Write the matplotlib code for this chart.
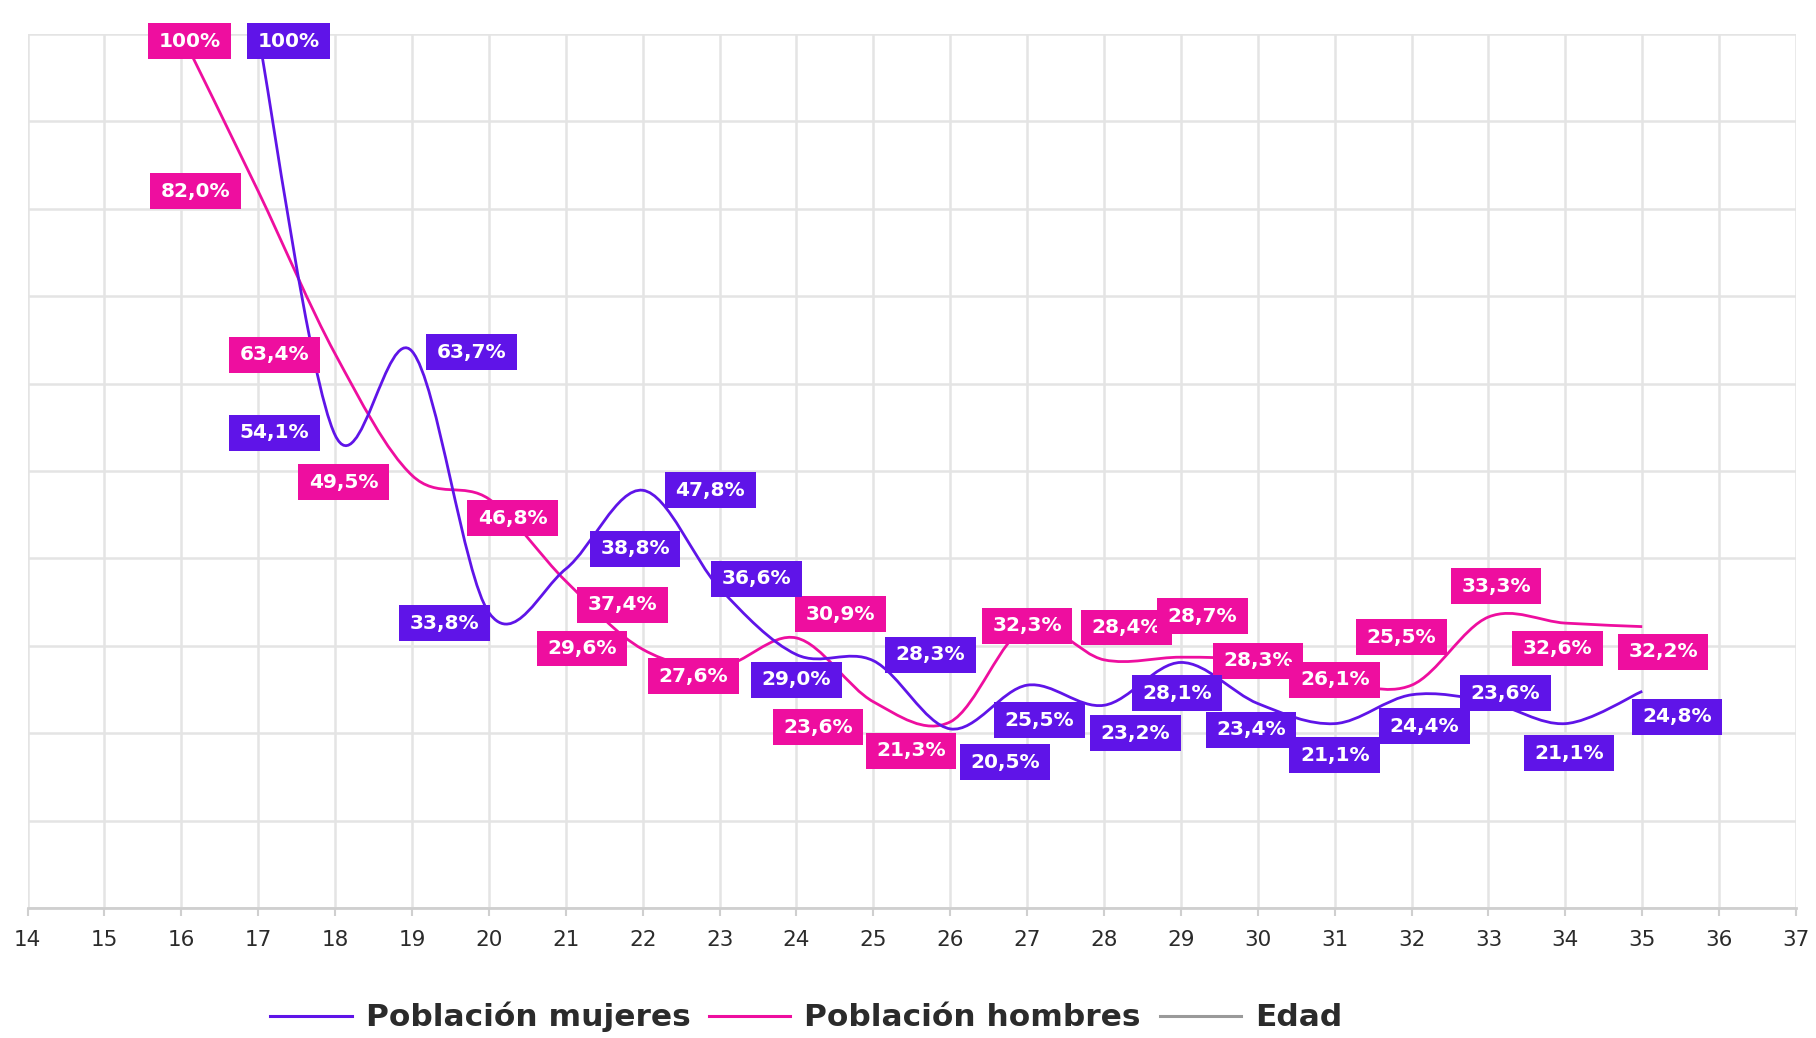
import numpy as np
import matplotlib
matplotlib.use('Agg')
import matplotlib.pyplot as plt
from matplotlib.path import Path
from matplotlib.patches import PathPatch
from matplotlib.lines import Line2D

# Datos (porcentaje por edad)
edad_mujeres = [17, 18, 19, 20, 21, 22, 23, 24, 25, 26, 27, 28, 29, 30, 31, 32, 33, 34, 35]
mujeres = [100, 54.1, 63.7, 33.8, 38.8, 47.8, 36.6, 29.0, 28.3, 20.5, 25.5,
           23.2, 28.1, 23.4, 21.1, 24.4, 23.6, 21.1, 24.8]

edad_hombres = [16, 17, 18, 19, 20, 21, 22, 23, 24, 25, 26, 27, 28, 29, 30,
                31, 32, 33, 34, 35]
hombres = [100, 82.0, 63.4, 49.5, 46.8, 37.4, 29.6, 27.6, 30.9, 23.6, 21.3,
           32.3, 28.4, 28.7, 28.3, 26.1, 25.5, 33.3, 32.6, 32.2]

edades_eje = list(range(14, 38))

# Desplazamiento de las etiquetas respecto al punto (unidades de datos)
hom_dx = [0.11, -0.82, -0.79, -0.89, 0.31, 0.74, -0.79, -0.34, 0.57, -0.72,
          -0.51, 0.0, 0.29, 0.28, 0.0, 0.0, -0.13, 0.10, -0.10, 0.27]
hom_dy = [-0.8, 0.0, -0.1, -0.8, -2.2, -2.7, 0.1, -1.1, 2.7, -2.9,
          -3.3, 0.0, 3.7, 4.7, 0.0, 0.0, 5.5, 3.5, -2.9, -2.9]
muj_dx = [0.39, -0.79, 0.77, -0.58, 0.90, 0.88, 0.48, 0.0, 0.74, 0.71,
          0.16, 0.41, -0.05, -0.09, 0.0, 0.17, 0.22, 0.05, 0.45]
muj_dy = [-0.8, 0.3, -0.1, -1.2, 2.3, 0.0, 1.1, -2.9, 0.7, -3.8,
          -4.0, -3.2, -3.5, -3.0, -3.6, -3.6, 1.0, -3.4, -2.9]

MORADO = '#5f14e8'
ROSA = '#ee0e9f'
GRIS = '#e4e4e4'


def curva_suave(xs, ys):
    """Curva Catmull-Rom como path de Bezier (pasa por todos los puntos)."""
    pts = np.column_stack([xs, ys]).astype(float)
    ext = np.vstack([pts[0], pts, pts[-1]])
    verts = [pts[0]]
    codes = [Path.MOVETO]
    for i in range(len(pts) - 1):
        p0, p1, p2, p3 = ext[i], ext[i + 1], ext[i + 2], ext[i + 3]
        verts += [p1 + (p2 - p0) / 6, p2 - (p3 - p1) / 6, p2]
        codes += [Path.CURVE4] * 3
    return Path(verts, codes)


def caja(x0, y0, width, height, mutation_size):
    """Caja rectangular con más relleno horizontal que vertical."""
    px = 0.52 * mutation_size
    py = 0.42 * mutation_size
    x0, y0 = x0 - px, y0 - py
    x1, y1 = x0 + width + 2 * px, y0 + height + 2 * py
    return Path([(x0, y0), (x1, y0), (x1, y1), (x0, y1), (x0, y0)],
                closed=True)


def pct(v):
    if v == 100:
        return '100%'
    return f'{v:.1f}%'.replace('.', ',')


fig = plt.figure(figsize=(18.16, 10.38), dpi=100)
ax = fig.add_axes([0.0152, 0.1252, 0.9738, 0.842])

ax.set_xlim(14, 37)
ax.set_ylim(0, 100)
ax.set_xticks(edades_eje)
ax.set_yticks(range(0, 101, 10))
ax.grid(True, color=GRIS, linewidth=1.8, zorder=0)
ax.set_axisbelow(True)
for s in ['top', 'left', 'right']:
    ax.spines[s].set_visible(False)
ax.spines['bottom'].set_color('#cfcfcf')
ax.spines['bottom'].set_linewidth(2)
ax.tick_params(axis='y', length=0, labelleft=False)
ax.tick_params(axis='x', length=6, width=1.5, color='#cfcfcf',
               labelsize=15.5, labelcolor='#2b2b2b', pad=10)

ax.add_patch(PathPatch(curva_suave(edad_hombres, hombres), fill=False,
                       edgecolor=ROSA, linewidth=2, zorder=3))
ax.add_patch(PathPatch(curva_suave(edad_mujeres, mujeres), fill=False,
                       edgecolor=MORADO, linewidth=2, zorder=3))

series = [(edad_hombres, hombres, hom_dx, hom_dy, ROSA),
          (edad_mujeres, mujeres, muj_dx, muj_dy, MORADO)]
for xs, vals, dxs, dys, color in series:
    for x, v, dx, dy in zip(xs, vals, dxs, dys):
        ax.text(x + dx, v + dy, pct(v), ha='center', va='center',
                fontsize=14.5, fontweight='bold', color='white',
                family='DejaVu Sans', zorder=5, clip_on=False,
                bbox=dict(boxstyle=caja, facecolor=color, edgecolor='none'))

manejadores = [Line2D([], [], color=MORADO, lw=2.2),
               Line2D([], [], color=ROSA, lw=2.2),
               Line2D([], [], color='#9a9a9a', lw=2.2)]
fig.legend(manejadores, ['Población mujeres', 'Población hombres', 'Edad'],
           loc='center', bbox_to_anchor=(0.444, 0.02), ncol=3, frameon=False,
           prop={'family': 'DejaVu Sans', 'weight': 'bold', 'size': 22.5},
           labelcolor='#2b2b2b', handlelength=2.6, handletextpad=0.45,
           columnspacing=0.6)

fig.savefig('out.png', dpi=100)
